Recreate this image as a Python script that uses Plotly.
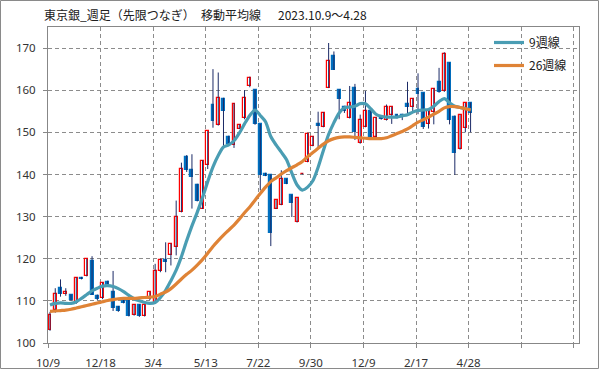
import plotly.graph_objects as go

# ---- data ----
tick_labels = ["10/9", "12/18", "3/4", "5/13", "7/22", "9/30", "12/9", "2/17", "4/28", "", ""]

opens = [103.0, 107.9, 113.0, 111.7, 111.3, 109.5, 115.5, 116.0, 119.5, 111.2,
         110.6, 114.4, 112.1, 108.6, 110.0, 110.2, 106.6, 109.0, 106.4, 110.4,
         109.8, 117.0, 119.8, 120.9, 122.8, 131.1, 144.1, 141.0, 137.5, 131.9,
         142.3, 156.4, 151.8, 158.0, 149.0, 147.0, 150.9, 153.3, 160.9, 160.1,
         151.9, 140.1, 139.8, 131.9, 132.8, 138.9, 135.1, 128.7, 140.0, 143.0,
         146.8, 151.9, 151.3, 160.6, 168.2, 160.1, 156.1, 153.5, 160.5, 147.5,
         151.3, 155.1, 149.0, 153.6, 152.9, 154.0, 154.1, 154.2, 156.7, 156.1,
         160.2, 159.3, 151.9, 154.9, 162.0, 159.7, 166.5, 153.6, 146.0, 151.0,
         157.0]
highs = [107.4, 113.0, 115.1, 113.0, 111.5, 115.6, 115.7, 120.0, 120.6, 111.5,
         114.4, 114.8, 117.1, 108.8, 110.2, 110.8, 109.2, 109.2, 109.1, 112.2,
         118.8, 120.0, 123.9, 123.6, 133.8, 142.8, 144.6, 144.8, 137.8, 143.4,
         150.3, 165.0, 164.2, 158.2, 149.2, 156.9, 151.9, 160.0, 163.2, 160.2,
         152.0, 140.4, 140.0, 134.0, 141.0, 139.0, 135.2, 134.5, 140.3, 149.8,
         149.1, 154.9, 154.8, 171.2, 169.2, 160.2, 156.3, 161.0, 161.5, 154.2,
         159.8, 155.3, 153.6, 154.0, 156.6, 156.1, 154.3, 154.4, 162.0, 158.1,
         164.0, 159.4, 155.1, 160.5, 165.3, 169.0, 166.6, 154.0, 154.2, 157.0,
         157.1]
lows = [102.9, 107.2, 111.0, 111.2, 110.0, 109.3, 115.1, 115.8, 111.4, 110.2,
        110.4, 113.5, 107.6, 107.4, 109.4, 106.3, 106.5, 106.2, 106.3, 110.2,
        109.6, 116.8, 116.8, 118.4, 120.8, 131.0, 140.6, 131.9, 133.6, 131.8,
        141.3, 151.1, 151.6, 146.8, 147.0, 146.3, 150.8, 153.1, 160.7, 151.8,
        136.2, 139.6, 123.0, 131.8, 132.7, 137.7, 129.9, 128.6, 140.0, 142.9,
        146.7, 146.3, 151.2, 160.5, 164.8, 153.1, 154.6, 153.3, 148.2, 147.3,
        151.2, 148.8, 148.9, 153.0, 152.8, 152.0, 153.3, 152.9, 154.1, 154.9,
        154.3, 150.8, 150.9, 151.9, 159.4, 159.6, 151.9, 139.9, 145.9, 150.0,
        150.0]
closes = [106.7, 111.6, 111.6, 112.2, 110.2, 115.4, 115.2, 119.9, 111.4, 110.4,
          114.2, 113.8, 108.4, 107.5, 109.6, 106.4, 109.0, 106.3, 109.0, 112.1,
          117.1, 119.8, 119.3, 123.4, 130.0, 141.4, 141.0, 139.5, 133.7, 143.1,
          150.2, 152.7, 158.2, 155.1, 147.3, 156.8, 151.8, 158.2, 162.9, 151.9,
          139.9, 139.7, 126.0, 133.9, 138.9, 137.8, 133.3, 134.4, 140.2, 149.7,
          149.0, 151.4, 154.7, 167.0, 164.9, 158.0, 155.1, 156.9, 150.0, 152.9,
          155.0, 149.0, 153.5, 153.2, 156.0, 155.9, 153.5, 153.7, 155.9, 158.0,
          159.2, 151.3, 155.0, 160.4, 159.5, 168.6, 152.9, 145.0, 154.0, 156.9,
          154.6]

ma9 = [109.0, 109.4, 109.5, 109.4, 109.4, 109.8, 110.6, 111.5, 112.4, 113.0,
       113.5, 113.6, 113.4, 112.9, 112.2, 111.3, 110.5, 110.0, 109.6, 109.4,
       109.6, 110.8, 112.5, 114.8, 117.3, 120.5, 124.3, 127.8, 131.0, 134.5,
       138.3, 141.8, 144.5, 146.5, 147.0, 148.0, 149.8, 152.0, 154.0, 155.3,
       154.0, 152.5, 149.0, 147.0, 145.3, 143.5, 140.3, 137.5, 136.3, 137.0,
       138.5, 141.7, 145.7, 149.5, 152.3, 154.6, 155.8, 156.0, 156.2, 156.8,
       156.8, 155.6, 154.3, 153.8, 153.6, 153.6, 153.6, 153.9, 154.2, 154.8,
       155.2, 155.3, 155.4, 156.2, 157.3, 158.0, 157.0, 156.2, 155.9, 155.6,
       155.4]
ma26 = [107.5, 107.6, 107.7, 107.8, 108.0, 108.3, 108.6, 108.9, 109.2, 109.5,
        109.8, 110.1, 110.3, 110.5, 110.6, 110.6, 110.6, 110.7, 110.8, 110.9,
        111.0, 111.6, 112.1, 112.9, 114.0, 115.2, 116.3, 117.3, 118.5, 119.8,
        121.3, 122.9, 124.3, 125.6, 126.8, 128.0, 129.4, 130.9, 132.3, 133.9,
        135.5, 137.0, 138.3, 139.2, 140.1, 140.9, 141.6, 142.3, 143.1, 144.2,
        145.2, 146.2, 147.2, 148.0, 148.5, 148.8, 148.9, 148.9, 148.8, 148.7,
        148.6, 148.5, 148.5, 148.5, 148.7, 149.2, 149.7, 150.2, 150.8, 151.6,
        152.4, 153.0, 153.6, 154.3, 155.0, 155.8, 156.1, 156.1, 155.9, 155.6,
        155.3]

# ---- styles ----
RED = "#FF0000"
BLUE = "#0070C0"
WICK = "#1B2A66"
TEAL = "#4A9DB3"
ORANGE = "#DF8336"
GRID = "#8C8C8C"
AXIS = "#878787"

n = len(closes)
x = list(range(n))
slots_per_tick = 10
offset = -0.38  # category slot edge relative to candle centre
tickvals = [k * slots_per_tick + offset for k in range(len(tick_labels))]

# wicks
wx, wy = [], []
for i in range(n):
    wx += [x[i], x[i], None]
    wy += [lows[i], highs[i], None]

up_x = [x[i] for i in range(n) if closes[i] >= opens[i]]
up_base = [opens[i] for i in range(n) if closes[i] >= opens[i]]
up_h = [closes[i] - opens[i] for i in range(n) if closes[i] >= opens[i]]
dn_x = [x[i] for i in range(n) if closes[i] < opens[i]]
dn_base = [closes[i] for i in range(n) if closes[i] < opens[i]]
dn_h = [opens[i] - closes[i] for i in range(n) if closes[i] < opens[i]]

fig = go.Figure()
fig.add_trace(go.Scatter(x=wx, y=wy, mode="lines", line=dict(color=WICK, width=1),
                         showlegend=False, hoverinfo="skip"))
fig.add_trace(go.Bar(x=up_x, y=up_h, base=up_base, width=0.56,
                     marker=dict(color="white", line=dict(color=RED, width=1.2)),
                     showlegend=False))
fig.add_trace(go.Bar(x=dn_x, y=dn_h, base=dn_base, width=0.56,
                     marker=dict(color=BLUE, line=dict(color=BLUE, width=1.2)),
                     showlegend=False))
fig.add_trace(go.Scatter(x=x, y=ma9, mode="lines", name="9週線",
                         line=dict(color=TEAL, width=3.2, shape="spline", smoothing=0.8),
                         legendgroup="a"))
fig.add_trace(go.Scatter(x=x, y=ma26, mode="lines", name="26週線",
                         line=dict(color=ORANGE, width=3.2, shape="spline", smoothing=0.8),
                         legendgroup="b"))

W, H = 599, 369
ml, mr, mt, mb = 48, 20, 27, 26
pw, ph = W - ml - mr, H - mt - mb

fig.update_layout(
    width=W, height=H,
    margin=dict(l=ml, r=mr, t=mt, b=mb, pad=0, autoexpand=False),
    paper_bgcolor="white", plot_bgcolor="white",
    barmode="overlay", bargap=0,
    font=dict(family="Noto Sans, Noto Sans CJK JP", size=11.5, color="#333333"),
    legend=dict(x=(489 - ml) / pw, y=1 - (28 - mt) / ph, xanchor="left", yanchor="top",
                bgcolor="rgba(0,0,0,0)", borderwidth=0, tracegroupgap=4,
                font=dict(family="Noto Sans CJK JP", size=12, color="#202020")),
    showlegend=True,
)
fig.update_xaxes(range=[offset, offset + 101], tickvals=tickvals, ticktext=tick_labels,
                 showgrid=True, gridcolor=GRID, griddash="4px,3px", gridwidth=1,
                 showline=True, linecolor=AXIS, linewidth=1, mirror=True,
                 ticks="outside", ticklen=4, tickcolor=AXIS, zeroline=False,
                 ticklabelstandoff=5, automargin=False)
fig.update_yaxes(range=[100, 175], tickvals=[100, 110, 120, 130, 140, 150, 160, 170],
                 showgrid=True, gridcolor=GRID, griddash="4px,3px", gridwidth=1,
                 showline=True, linecolor=AXIS, linewidth=1, mirror=True,
                 ticks="outside", ticklen=4, tickcolor=AXIS, zeroline=False,
                 ticklabelstandoff=5, automargin=False)

# outer chart border
fig.add_shape(type="rect", xref="paper", yref="paper",
              x0=(0.5 - ml) / pw, x1=(W - 0.5 - ml) / pw,
              y0=-(mb - 0.5) / ph, y1=1 + (mt - 0.5) / ph,
              line=dict(color="#8A8A8A", width=1), fillcolor="rgba(0,0,0,0)", layer="below")

title_parts = [("東京銀_週足（先限つなぎ）", 41.7), ("移動平均線", 199), ("2023.10.9～4.28", 276)]
for txt, px in title_parts:
    fig.add_annotation(text=txt, xref="paper", yref="paper", x=(px - ml) / pw,
                       y=1 + (mt - 14) / ph, xanchor="left", yanchor="middle",
                       showarrow=False,
                       font=dict(family="Noto Sans CJK JP", size=12, color="#202020"))

fig.write_html("out.html", config={"displayModeBar": False},
               post_script="document.body.style.margin='0';document.body.style.overflow='hidden';")
